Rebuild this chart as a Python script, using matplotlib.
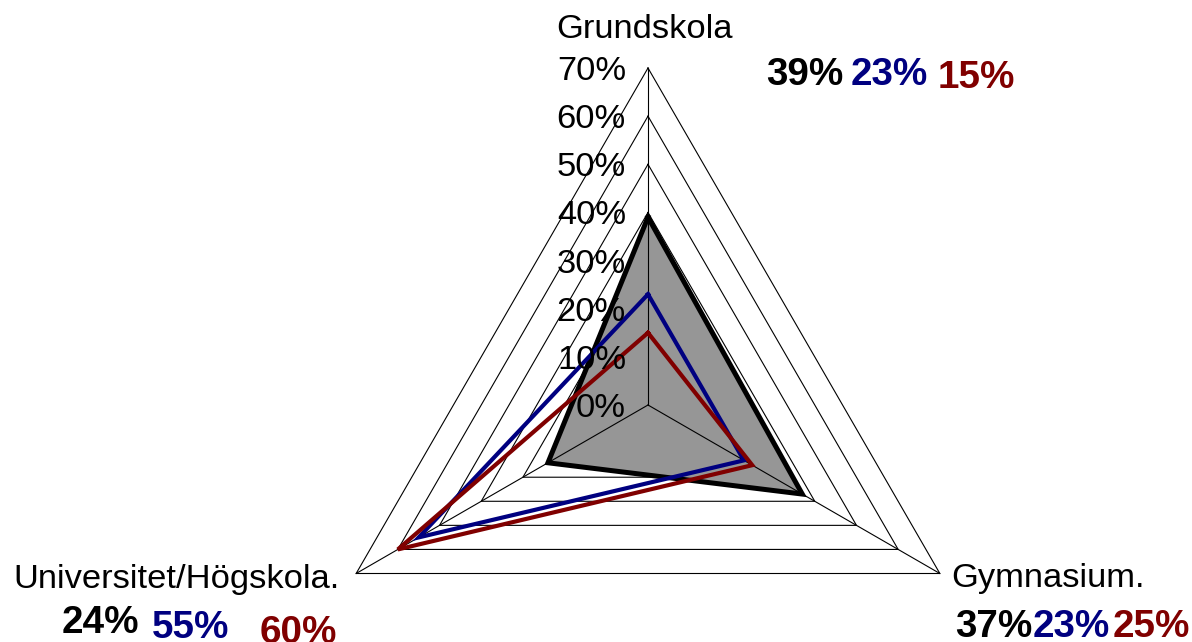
import numpy as np
import matplotlib
matplotlib.use("Agg")
import matplotlib.pyplot as plt

# ---- data ----
categories = ["Grundskola", "Gymnasium.", "Universitet/Högskola."]
series_black = [0.39, 0.37, 0.24]
series_blue = [0.23, 0.23, 0.55]
series_red = [0.15, 0.25, 0.60]
label_black = ["39%", "37%", "24%"]
label_blue = ["23%", "23%", "55%"]
label_red = ["15%", "25%", "60%"]
ring_levels = [0.0, 0.1, 0.2, 0.3, 0.4, 0.5, 0.6, 0.7]
ring_labels = ["0%", "10%", "20%", "30%", "40%", "50%", "60%", "70%"]

W, H = 1192, 642
plt.rcParams['font.family'] = ['Liberation Sans', 'DejaVu Sans']
fig = plt.figure(figsize=(W / 100, H / 100), dpi=100)

# polar axes: centre at (648, 405) px, 70% radius 337 px
cx, cy, R = 648, 405, 337
ax = fig.add_axes([(cx - R) / W, (H - cy - R) / H, 2 * R / W, 2 * R / H],
                  projection='polar')
ax.set_theta_offset(np.pi / 2)
ax.set_theta_direction(-1)
ax.set_ylim(0, ring_levels[-1])
ax.grid(False)
ax.spines['polar'].set_visible(False)
ax.set_xticks([])
ax.set_yticks([])
ax.patch.set_alpha(0)

n = len(categories)
theta = np.arange(n) * 2 * np.pi / n
theta_c = np.append(theta, theta[0])

def closed(v):
    return np.append(v, v[0])

# rings
for lv in ring_levels[1:]:
    ax.plot(theta_c, [lv] * (n + 1), color='black', lw=0.8, zorder=1, clip_on=False)

# gray fill of black series
ax.fill(theta_c, closed(series_black), color='#969696', zorder=2, clip_on=False)

# spokes
for t in theta:
    ax.plot([t, t], [0, ring_levels[-1]], color='black', lw=0.8, zorder=3, clip_on=False)

ax.plot(theta_c, closed(series_black), color='black', lw=3.6, zorder=4,
        solid_joinstyle='miter', clip_on=False)
ax.plot(theta_c, closed(series_blue), color='#000080', lw=3.0, zorder=5,
        solid_joinstyle='miter', clip_on=False)
ax.plot(theta_c, closed(series_red), color='#800000', lw=3.0, zorder=6,
        solid_joinstyle='miter', clip_on=False)

# ring tick labels
for lv, lab in zip(ring_levels, ring_labels):
    ax.annotate(lab, xy=(0, lv), xytext=(-22, -12), textcoords='offset pixels',
                ha='right', va='baseline', fontsize=24.8, color='black',
                zorder=7, annotation_clip=False)

def ftext(x, y, s, **kw):
    fig.text(x / W, 1 - y / H, s, **kw)

reg = dict(fontsize=24.8, color='black', ha='left', va='baseline')
bold = dict(fontsize=27.8, fontweight='bold', ha='left', va='baseline')

# category labels
ftext(556, 38, categories[0], **reg)
ftext(951, 587, categories[1], **reg)
ftext(13, 588, categories[2], **reg)

# value labels
ftext(766, 85, label_black[0], color='black', **bold)
ftext(851, 85, label_blue[0], color='#000080', **bold)
ftext(938, 88, label_red[0], color='#800000', **bold)

ftext(955, 637, label_black[1], color='black', **bold)
ftext(1033, 637, label_blue[1], color='#000080', **bold)
ftext(1113, 637, label_red[1], color='#800000', **bold)

ftext(62, 633, label_black[2], color='black', **bold)
ftext(152, 638, label_blue[2], color='#000080', **bold)
ftext(260, 643, label_red[2], color='#800000', **bold)

fig.savefig("out.png", dpi=100, facecolor='white')
